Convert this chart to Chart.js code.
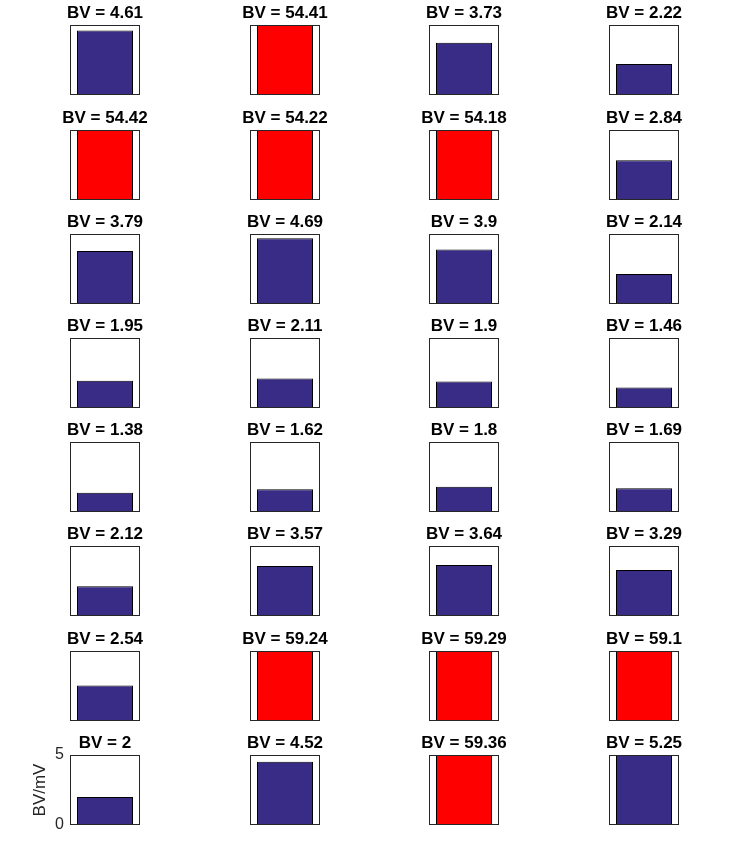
<!DOCTYPE html>
<html><head><meta charset="utf-8">
<script src="https://cdn.jsdelivr.net/npm/chart.js@4"></script>
<style>
html,body{margin:0;padding:0;background:#fff;}
#fig{position:relative;width:750px;height:850px;overflow:hidden;background:#fff;}
#fig canvas{position:absolute;}
</style></head><body><div id="fig"></div>
<script>
// ---- data ----
const bvValues = [
  4.61, 54.41, 3.73, 2.22,
  54.42, 54.22, 54.18, 2.84,
  3.79, 4.69, 3.9, 2.14,
  1.95, 2.11, 1.9, 1.46,
  1.38, 1.62, 1.8, 1.69,
  2.12, 3.57, 3.64, 3.29,
  2.54, 59.24, 59.29, 59.1,
  2, 4.52, 59.36, 5.25
];
const barCategory = ['BV'];
const yTicks = [0, 5];
const yAxisTitle = 'BV/mV';
const titlePrefix = 'BV = ';

// ---- layout / style ----
const NCOLS = 4;
const colLeft = [70, 250, 429, 609];
const rowTop = [25, 130, 234, 338, 442, 546, 651, 755];
const BOX_W = 70, BOX_H = 70;
const PAD_L = 55, PAD_R = 55, PAD_T = 30, PAD_B = 20;
const FONT = "'Liberation Sans', Arial, Helvetica, sans-serif";
const BLUE = '#382C87', RED = '#FF0000';
const axisPanel = (rowTop.length - 1) * NCOLS; // bottom-left

const framePlugin = {
  id: 'frame',
  afterDatasetsDraw(chart) {
    const a = chart.chartArea, ctx = chart.ctx;
    ctx.save();
    ctx.strokeStyle = '#262626';
    ctx.lineWidth = 1;
    ctx.strokeRect(Math.round(a.left) + 0.5, Math.round(a.top) + 0.5,
                   Math.round(a.right - a.left) - 1, Math.round(a.bottom - a.top) - 1);
    ctx.restore();
  }
};

const fig = document.getElementById('fig');
bvValues.forEach((v, i) => {
  const r = Math.floor(i / NCOLS), c = i % NCOLS;
  const cv = document.createElement('canvas');
  const w = PAD_L + BOX_W + PAD_R, h = PAD_T + BOX_H + PAD_B;
  cv.width = w; cv.height = h;
  cv.style.width = w + 'px'; cv.style.height = h + 'px';
  cv.style.left = (colLeft[c] - PAD_L) + 'px';
  cv.style.top = (rowTop[r] - PAD_T) + 'px';
  fig.appendChild(cv);
  const showAxis = i === axisPanel;
  new Chart(cv, {
    type: 'bar',
    data: {
      labels: barCategory,
      datasets: [{
        data: [v],
        yAxisID: 'y',
        backgroundColor: v > 10 ? RED : BLUE,
        borderColor: '#000',
        borderWidth: 1,
        borderSkipped: false,
        categoryPercentage: 0.8,
        barPercentage: 1.0,
        clip: 0
      }]
    },
    options: {
      responsive: false,
      animation: false,
      devicePixelRatio: 1,
      events: [],
      layout: { padding: { left: 0, right: 0, top: 0, bottom: PAD_B } },
      plugins: {
        legend: { display: false },
        tooltip: { enabled: false },
        title: {
          display: true,
          text: titlePrefix + String(v),
          color: '#000',
          font: { family: FONT, size: 17, weight: 'bold', lineHeight: '20px' },
          padding: { top: 8, bottom: 2 }
        }
      },
      scales: {
        x: { display: false, offset: true },
        y: {
          position: 'left',
          min: yTicks[0],
          max: yTicks[yTicks.length - 1],
          display: true,
          grid: { display: false, drawTicks: false },
          border: { display: false },
          afterBuildTicks: s => { s.ticks = yTicks.map(t => ({ value: t })); },
          afterFit: s => { s.width = PAD_L; s.paddingTop = 0; s.paddingBottom = 0; },
          ticks: {
            display: showAxis,
            padding: 6,
            color: '#262626',
            font: { family: FONT, size: 16 }
          },
          title: {
            display: showAxis,
            text: yAxisTitle,
            color: '#262626',
            font: { family: FONT, size: 17, lineHeight: 1.2 },
            padding: { top: 15, bottom: 0 }
          }
        },
        y2: {
          position: 'right',
          display: true,
          grid: { display: false, drawTicks: false },
          border: { display: false },
          ticks: { display: false },
          afterFit: s => { s.width = PAD_R; s.paddingTop = 0; s.paddingBottom = 0; }
        }
      }
    },
    plugins: [framePlugin]
  });
});
</script></body></html>
